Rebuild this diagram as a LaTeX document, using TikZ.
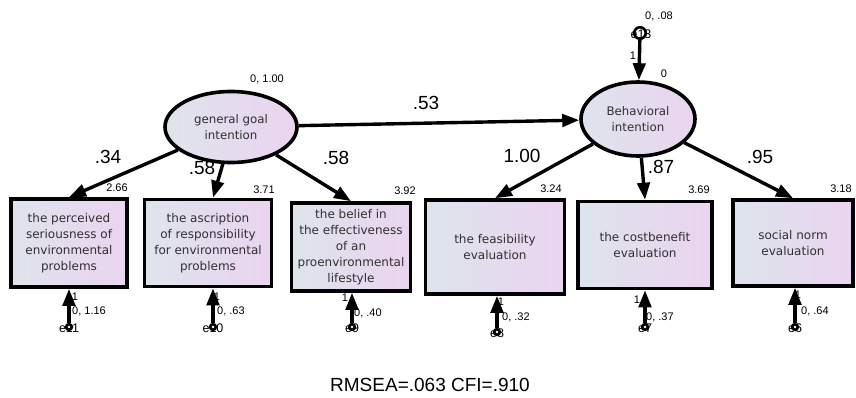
\documentclass[tikz,border=0pt]{standalone}
\usepackage{fontspec}
\setmainfont{Liberation Sans}
\newfontfamily\gothic{DejaVu Sans}
\usetikzlibrary{arrows.meta,shapes.geometric,calc}
\definecolor{fillL}{HTML}{DEE4EC}
\definecolor{fillR}{HTML}{EAD4F0}
\definecolor{inktext}{HTML}{303030}
\begin{document}
\begin{tikzpicture}[x=1pt,y=-1pt,
  obs/.style={draw=black,line width=3.6pt,rectangle,left color=fillL,right color=fillR,
    align=center,inner sep=0pt,text=inktext,font=\gothic\fontsize{12}{16}\selectfont},
  latent/.style={draw=black,line width=3.6pt,ellipse,left color=fillL,right color=fillR,
    align=center,inner sep=0pt,text=inktext,font=\gothic\fontsize{11.8}{16}\selectfont},
  errdot/.style={circle,fill=black,minimum size=8.5pt,inner sep=0pt},
  errring/.style={circle,draw=black,line width=2.6pt,minimum size=11.5pt,inner sep=0pt},
  errname/.style={font=\fontsize{12.5}{12}\selectfont,inner sep=0pt},
  small/.style={font=\fontsize{11}{11}\selectfont,inner sep=0pt},
  coef/.style={font=\fontsize{19}{20}\selectfont,inner sep=0pt},
  path/.style={line width=3.4pt,-{Triangle[length=17pt,width=12.5pt]}},
]
\useasboundingbox (0,0) rectangle (856,398);

% latent variables
\node[latent,minimum width=132pt,minimum height=71pt] (g) at (231,127) {general goal\\intention};
\node[latent,minimum width=114pt,minimum height=74pt] (bi) at (638,119) {Behavioral\\intention};

% observed indicators
\node[obs,minimum width=116pt,minimum height=88pt] (b1) at (69,243) {the perceived\\seriousness of\\environmental\\problems};
\node[obs,minimum width=127pt,minimum height=87pt] (b2) at (208,243) {the ascription\\of responsibility\\for environmental\\problems};
\node[obs,minimum width=119pt,minimum height=88pt] (b3) at (351,247) {the belief in\\the effectiveness\\of an\\proenvironmental\\lifestyle};
\node[obs,minimum width=139pt,minimum height=94pt] (b4) at (495,247) {the feasibility\\evaluation};
\node[obs,minimum width=134pt,minimum height=87pt] (b5) at (645,245) {the costbenefit\\evaluation};
\node[obs,minimum width=120pt,minimum height=86pt] (b6) at (793,243) {social norm\\evaluation};

% structural and measurement paths
\draw[path] (g) -- (bi);
\draw[path] (g) -- (b1.north);
\draw[path] ($(g.south)+(-8,-1)$) -- ($(b2.north)+(5,0)$);
\draw[path] (g) -- (b3.north);
\draw[path] (bi) -- (b4.north);
\draw[path] (bi) -- (b5.north);
\draw[path] (bi) -- (b6.north);

% path coefficients
\node[coef] (c0) at (426,103) {.53};
\node[coef] (c1) at (108,157) {.34};
\node[coef] (c2) at (202,168) {.58};
\node[coef] (c3) at (336,158) {.58};
\node[coef] (c4) at (522,156) {1.00};
\node[coef] (c5) at (661,167) {.87};
\node[coef] (c6) at (760,157) {.95};

% intercepts and variances
\node[small] (v0) at (267,79) {0, 1.00};
\node[small] (v1) at (664,74) {0};
\node[small] (i1) at (117,188) {2.66};
\node[small] (i2) at (264,190) {3.71};
\node[small] (i3) at (405,191) {3.92};
\node[small] (i4) at (551,189) {3.24};
\node[small] (i5) at (699,190) {3.69};
\node[small] (i6) at (841,189) {3.18};

% disturbance of Behavioral intention
\node[errname] (n13) at (641,34) {e13};
\node[errring] (e13) at (640,33) {};
\node[small] (w13) at (659,16) {0, .08};
\node[small] (o13) at (633,56) {1};
\draw[path] (e13) -- (bi);

% measurement errors
\foreach \nm/\lab/\x/\y/\bx in {e11/e11/69/327/b1, e10/e10/213/327/b2, e9/e9/352/327/b3,
                               e8/e8/497/332/b4, e7/e7/645/327/b5, e6/e6/795/327/b6}{
  \node[errname] (t\nm) at (\x,\y+1) {\lab};
  \node[errdot] (\nm) at (\x,\y) {};
  \fill[white] (\nm.center) circle (1.3pt);
  \draw[path] (\nm) -- (\nm |- \bx.south);
}

\node[small] (o1) at (75,297) {1};
\node[small,anchor=west] (w1) at (72,311) {0, 1.16};
\node[small] (o2) at (217,297) {1};
\node[small,anchor=west] (w2) at (217,311) {0, .63};
\node[small] (o3) at (345,298) {1};
\node[small,anchor=west] (w3) at (354,313) {0, .40};
\node[small] (o4) at (501,302) {1};
\node[small,anchor=west] (w4) at (502,317) {0, .32};
\node[small] (o5) at (637,300) {1};
\node[small,anchor=west] (w5) at (646,317) {0, .37};
\node[small] (o6) at (798,295) {1};
\node[small,anchor=west] (w6) at (801,311) {0, .64};

% fit indices
\node[font=\fontsize{19}{20}\selectfont,inner sep=0pt] (fit) at (430,385) {RMSEA=.063 CFI=.910};
\end{tikzpicture}
\end{document}
